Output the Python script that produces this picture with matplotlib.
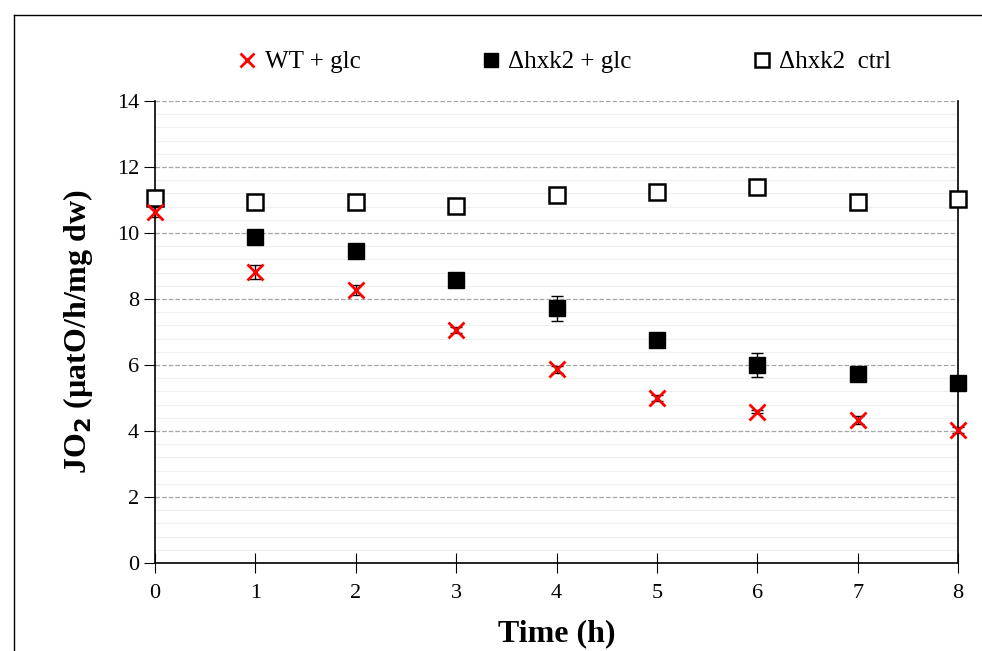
import matplotlib.pyplot as plt
import numpy as np
from matplotlib.lines import Line2D

# data
time_h = [0, 1, 2, 3, 4, 5, 6, 7, 8]

wt_glc = [10.65, 8.82, 8.27, 7.06, 5.87, 5.0, 4.59, 4.34, 4.03]
wt_glc_err = [0.15, 0.22, 0.15, 0.08, 0.1, 0.1, 0.05, 0.12, 0.1]

hxk2_glc_t = [1, 2, 3, 4, 5, 6, 7, 8]
hxk2_glc = [9.88, 9.44, 8.58, 7.72, 6.75, 6.0, 5.74, 5.45]
hxk2_glc_err = [0.2, 0.05, 0.05, 0.38, 0.15, 0.36, 0.16, 0.05]

hxk2_ctrl = [11.07, 10.95, 10.93, 10.83, 11.15, 11.24, 11.38, 10.94, 11.04]
hxk2_ctrl_err = [0.05, 0.05, 0.12, 0.08, 0.16, 0.16, 0.05, 0.16, 0.05]

plt.rcParams['font.family'] = ['Liberation Serif', 'DejaVu Serif']

fig = plt.figure(figsize=(9.82, 6.51), dpi=100)
ax = fig.add_axes([155/982, 1-563/651, (958-155)/982, (563-101)/651])

# frame around the chart area
fig.add_artist(Line2D([14/982, 14/982], [0, 1-15/651], transform=fig.transFigure, color='black', lw=1))
fig.add_artist(Line2D([14/982, 1], [1-15/651, 1-15/651], transform=fig.transFigure, color='black', lw=1))

ax.set_xlim(0, 8)
ax.set_ylim(0, 14)
ax.set_yticks(np.arange(0, 15, 2))
ax.set_yticks(np.arange(0, 14.01, 0.4), minor=True)
ax.set_xticks(time_h)
ax.grid(which='major', axis='y', color='#a6a6a6', linestyle='--', lw=0.9)
ax.grid(which='minor', axis='y', color='#f0f0f0', linestyle='-', lw=0.9)
ax.set_axisbelow(True)
ax.tick_params(axis='y', which='minor', length=0)
ax.tick_params(axis='y', which='major', direction='out', length=8, labelsize=16)
ax.tick_params(axis='x', direction='inout', length=14, labelsize=16, pad=8)
ax.spines['top'].set_visible(False)
for s in ['left', 'right', 'bottom']:
    ax.spines[s].set_linewidth(1.2)

ax.errorbar(hxk2_glc_t, hxk2_glc, yerr=hxk2_glc_err, fmt='none', ecolor='black',
            capsize=4, elinewidth=1, zorder=3, clip_on=False)
ax.errorbar(time_h, hxk2_ctrl, yerr=hxk2_ctrl_err, fmt='none', ecolor='black',
            capsize=4, elinewidth=1, zorder=3, clip_on=False)
ax.errorbar(time_h, wt_glc, yerr=wt_glc_err, fmt='none', ecolor='black',
            capsize=4, elinewidth=1, zorder=4, clip_on=False)
ax.plot(time_h, wt_glc, 'x', color='red', ms=12, mew=2, label='WT + glc', zorder=5, clip_on=False)
ax.plot(hxk2_glc_t, hxk2_glc, 's', color='black', ms=12, label='Δhxk2 + glc', zorder=4, clip_on=False)
ax.plot(time_h, hxk2_ctrl, 's', color='black', mfc='white', mew=1.8, ms=12,
        label='Δhxk2  ctrl', zorder=4, clip_on=False)

fig.legend(loc='center', bbox_to_anchor=(0.572, 1-62/651), ncol=3, frameon=False, fontsize=18,
           columnspacing=4.6, handletextpad=0.1, handlelength=1.2, markerscale=0.85)

ax.set_xlabel('Time (h)', fontsize=23, fontweight='bold', labelpad=12)
ax.set_ylabel(r'JO$_\mathbf{2}$ (µatO/h/mg dw)', fontsize=23, fontweight='bold', labelpad=16)

fig.savefig('out.png', dpi=100)
